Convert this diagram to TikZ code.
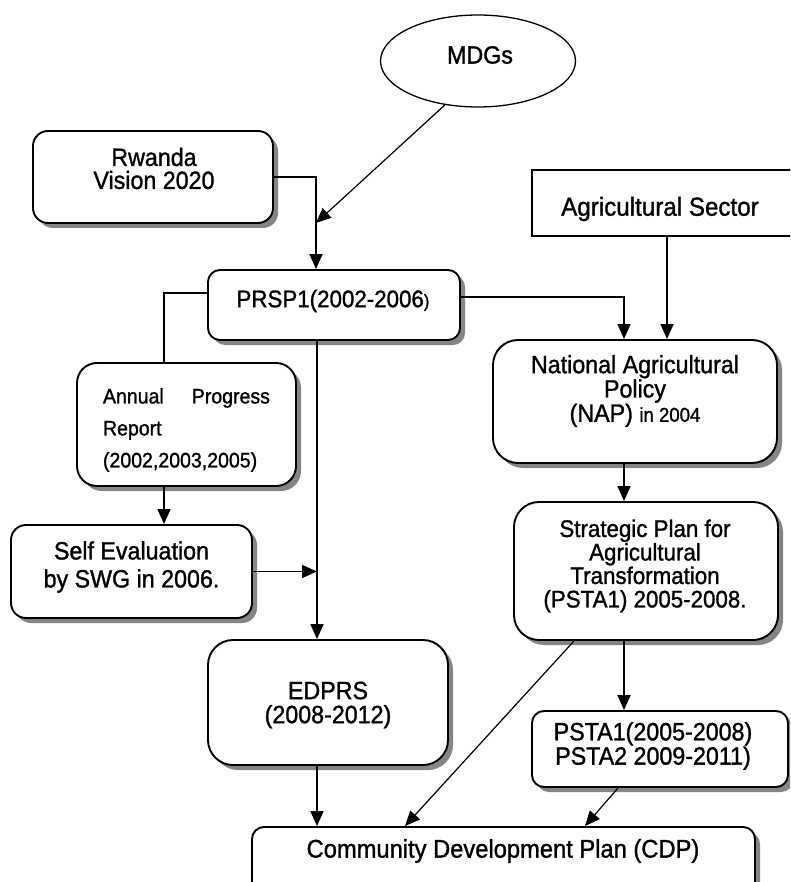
\documentclass[tikz,border=0pt]{standalone}
\usepackage{fontspec}
\setmainfont{Liberation Sans}[FakeStretch=0.93,FakeBold=1.2]
\usetikzlibrary{shapes.geometric,arrows.meta,shadows}
\tikzset{
  rbox/.style={draw, line width=1.9pt, rounded corners=#1, fill=white, inner sep=0pt,
    drop shadow={shadow xshift=5pt, shadow yshift=-5pt, fill=black!48, opacity=1}},
  plainbox/.style={draw, line width=1.3pt, fill=white, inner sep=0pt},
  txt/.style={inner sep=0pt, align=center, font=\fontsize{#1}{#1}\selectfont},
  arr/.style={-{Triangle[length=15pt,width=13pt]}, line width=1.6pt},
  thinarr/.style={-{Triangle[length=15pt,width=13pt]}, line width=1.2pt},
  conn/.style={line width=1.6pt}
}
\begin{document}
\begin{tikzpicture}[x=1pt,y=-1pt]
\useasboundingbox (0,0) rectangle (790,882);
\clip (0,0) rectangle (790,882);
\fill[white] (0,0) rectangle (790,882);

% boxes
\node[ellipse, draw, line width=1.3pt, minimum width=195pt, minimum height=92pt, inner sep=0pt] (mdg) at (478,61) {};
\node[rbox=15pt, minimum width=240pt, minimum height=92pt] (rw) at (153,177) {};
\node[plainbox, minimum width=270pt, minimum height=66pt] (ag) at (667,203) {};
\node[rbox=12pt, minimum width=252pt, minimum height=70pt] (prsp) at (334,305) {};
\node[rbox=25pt, minimum width=284pt, minimum height=123pt] (nap) at (635,401.5) {};
\node[rbox=20pt, minimum width=219pt, minimum height=123pt] (apr) at (186.5,424.5) {};
\node[rbox=15pt, minimum width=241pt, minimum height=93pt] (se) at (131.5,571.5) {};
\node[rbox=25pt, minimum width=264pt, minimum height=138pt] (strat) at (646,571) {};
\node[rbox=25pt, minimum width=240pt, minimum height=125pt] (edprs) at (328,702.5) {};
\node[rbox=12pt, minimum width=256pt, minimum height=76pt] (psta) at (660,749) {};
\node[rbox=12pt, minimum width=503pt, minimum height=83pt] (cdp) at (503.5,868.5) {};

% texts
\node[txt=25] (mdgT) at (480,55) {MDGs};
\node[txt=25, font=\fontsize{25}{23}\selectfont] (rwT) at (154,168.5) {Rwanda\\Vision 2020};
\node[txt=26] (agT) at (660,209) {Agricultural Sector};
\node[txt=24] (prspT) at (333,301) {PRSP1(2002-2006{\fontsize{18}{18}\selectfont)}};
\node[txt=25, font=\fontsize{25}{22}\selectfont] (napT) at (635,391) {National Agricultural\\Policy\\(NAP) {\fontsize{20}{20}\selectfont in 2004}};
\node[txt=21, font=\fontsize{21}{32}\selectfont, text width=167pt, align=left] (aprT) at (186.5,430) {Annual\hfill Progress\\Report\\(2002,2003,2005)};
\node[txt=25, font=\fontsize{25}{28}\selectfont] (seT) at (131.5,567) {Self Evaluation\\by SWG in 2006.};
\node[txt=24, font=\fontsize{24}{23.5}\selectfont] (stratT) at (645,566) {Strategic Plan for\\Agricultural\\Transformation\\(PSTA1) 2005-2008.};
\node[txt=25, font=\fontsize{25}{24}\selectfont] (edT) at (328,705) {EDPRS\\(2008-2012)};
\node[txt=25, font=\fontsize{25}{21}\selectfont] (pstaT) at (653,746) {PSTA1(2005-2008)\\PSTA2 2009-2011)};
\node[txt=25.5] (cdpT) at (503,851) {Community Development Plan (CDP)};

% helper coordinates
\coordinate (j1) at (316,223);
\coordinate (j2) at (317,571.5);
\coordinate (c1) at (164,293);
\coordinate (c2) at (624,297);
\coordinate (c4) at (624,0);
\coordinate (c5) at (317,0);
\coordinate (d1) at (574,0);
\coordinate (d2) at (405,0);
\coordinate (d3) at (618,0);
\coordinate (d4) at (585,0);

% connectors
\draw[thinarr] (mdg.233) -- (j1);
\draw[arr] (rw.east) -| (j1 |- prsp.north);
\draw[conn] (prsp.west |- c1) -| (apr.north -| c1);
\draw[arr] (prsp.east |- c2) -| (nap.north -| c2);
\draw[arr] (ag.south) -- (nap.north -| ag.south);
\draw[arr] (nap.south -| c4) -- (strat.north -| c4);
\draw[arr] (strat.south -| c4) -- (psta.north -| c4);
\draw[arr] (apr.south -| c1) -- (se.north -| c1);
\draw[arr] (prsp.south -| c5) -- (edprs.north -| c5);
\draw[arr] (se.east) -- (j2);
\draw[arr] (edprs.south -| c5) -- (cdp.north -| c5);
\draw[thinarr] (strat.south -| d1) -- (cdp.north -| d2);
\draw[thinarr] (psta.south -| d3) -- (cdp.north -| d4);
\end{tikzpicture}
\end{document}
